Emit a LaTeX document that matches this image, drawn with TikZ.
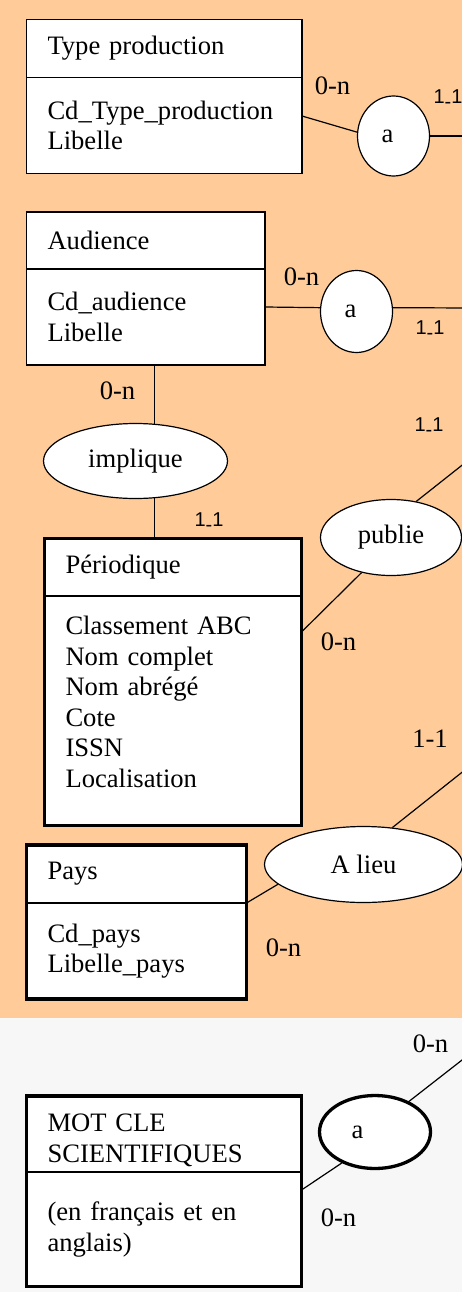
\documentclass[tikz,border=0pt]{standalone}
\usepackage{fontspec}
\setmainfont{Liberation Serif}
\newfontfamily\cardfont{Liberation Sans}
\usetikzlibrary{shapes.geometric,positioning}
\definecolor{fondorange}{HTML}{FFCC99}
\definecolor{fondgris}{HTML}{F7F7F7}
\newcommand{\unun}{{\cardfont\fontsize{20}{22}\selectfont 1\raisebox{-0.24em}{-}1}}

\begin{document}
\begin{tikzpicture}[x=1pt, y=-1pt,
        every node/.style={font=\fontsize{26.6}{30.6}\selectfont},
        titre/.style={draw, fill=white, line width=1.2pt, anchor=north west, inner xsep=21pt, inner ysep=0pt, outer sep=0pt, align=left},
        attr/.style={draw, fill=white, line width=1.2pt, inner xsep=21pt, inner ysep=0pt, outer sep=0pt, align=left},
        cadre/.style={line width=3.3pt},
        rel/.style={ellipse, draw, fill=white, line width=1.2pt, inner sep=0pt},
        card/.style={inner sep=0pt},
        lien/.style={line width=1.2pt}]
    \useasboundingbox (0,0) rectangle (462,1292);
    \clip (0,0) rectangle (462,1292);
    \fill[fondorange] (0,0) rectangle (462,1017.5);
    \fill[fondgris] (0,1017.5) rectangle (462,1292);

    % entites
    \node[titre, text width=233.5pt, minimum height=58pt] (tp) at (26.5,19.5) {Type production};
    \node[attr, text width=233.5pt, minimum height=96pt, below=0pt of tp] (tp-att) {Cd\_Type\_production\\Libelle};
    \node[titre, text width=196.5pt, minimum height=57pt] (aud) at (26.5,212) {Audience};
    \node[attr, text width=196.5pt, minimum height=96pt, below=0pt of aud] (aud-att) {Cd\_audience\\Libelle};
    \node[titre, text width=215pt, minimum height=57.5pt] (per) at (44.5,538.5) {Périodique};
    \node[attr, text width=215pt, minimum height=229.5pt, below=0pt of per] (per-att) {Classement ABC\\Nom complet\\Nom abrégé\\Cote\\ISSN\\Localisation\rule[-18pt]{0pt}{1pt}};
    \node[titre, text width=178pt, minimum height=58pt] (pays) at (26.5,845) {Pays};
    \node[attr, text width=178pt, minimum height=96pt, below=0pt of pays] (pays-att) {Cd\_pays\\Libelle\_pays};
    \node[titre, text width=233pt, minimum height=76pt] (mot) at (26.5,1096) {\rule{0pt}{30pt}MOT CLE\\SCIENTIFIQUES};
    \node[attr, text width=233pt, minimum height=114.5pt, below=0pt of mot] (mot-att) {(en français et en\\anglais)};
    \draw[cadre] (per.north west) rectangle (per-att.south east);
    \draw[cadre] (pays.north west) rectangle (pays-att.south east);
    \draw[cadre] (mot.north west) rectangle (mot-att.south east);

    % associations
    \node[rel, minimum width=72pt, minimum height=80pt] (r1) at (393.5,136) {a\kern12pt};
    \node[rel, minimum width=72pt, minimum height=82pt] (r2) at (356.5,311.5) {a\kern12pt};
    \node[rel, minimum width=184pt, minimum height=75pt] (impl) at (135.5,461) {implique};
    \node[rel, minimum width=141pt, minimum height=76pt] (pub) at (391,537.5) {publie};
    \node[rel, minimum width=198pt, minimum height=76pt] (alieu) at (363.5,864.5) {A lieu};
    \node[rel, line width=3.3pt, minimum width=111pt, minimum height=73pt] (r3) at (375,1132) {a\kern35pt};

    % cardinalites
    \node[card] (c1) at (332.5,85.5) {0-n};
    \node[card] (c2) at (301.5,276.5) {0-n};
    \node[card] (c3) at (117.5,391) {0-n};
    \node[card] (c4) at (338.5,641.5) {0-n};
    \node[card] (c5) at (283.5,948) {0-n};
    \node[card] (c6) at (430.5,1044) {0-n};
    \node[card] (c7) at (338.5,1218) {0-n};
    \node[card] (c8) at (430,738.5) {1-1};
    \node[card] (u1) at (448,99) {\unun};
    \node[card] (u2) at (430,330) {\unun};
    \node[card] (u3) at (429,427.5) {\unun};
    \node[card] (u4) at (209,522.5) {\unun};

    % bouts hors cadre
    \coordinate (f1) at (470,136);
    \coordinate (f2) at (470,308);
    \coordinate (f3) at (480,451);
    \coordinate (f4) at (480,758);
    \coordinate (f5) at (480,1046);

    \draw[lien] ([yshift=9.5pt]tp-att.east) -- (r1.174);
    \draw[lien] (r1.east) -- (f1);
    \draw[lien] ([yshift=10pt]aud-att.east) -- (r2.174);
    \draw[lien] (r2.6) -- (f2);
    \draw[lien] (aud-att.south -| impl.63) -- (impl.63);
    \draw[lien] (impl.297) -- (impl.297 |- per.north);
    \draw[lien] ([yshift=-36pt]per-att.north east) -- (pub.230);
    \draw[lien] (pub.55) -- (f3);
    \draw[lien] (pays.south east) -- (alieu.193);
    \draw[lien] (alieu.52) -- (f4);
    \draw[lien] ([yshift=-18pt]mot-att.north east) -- (r3.223);
    \draw[lien] (r3.42) -- (f5);
\end{tikzpicture}
\end{document}
